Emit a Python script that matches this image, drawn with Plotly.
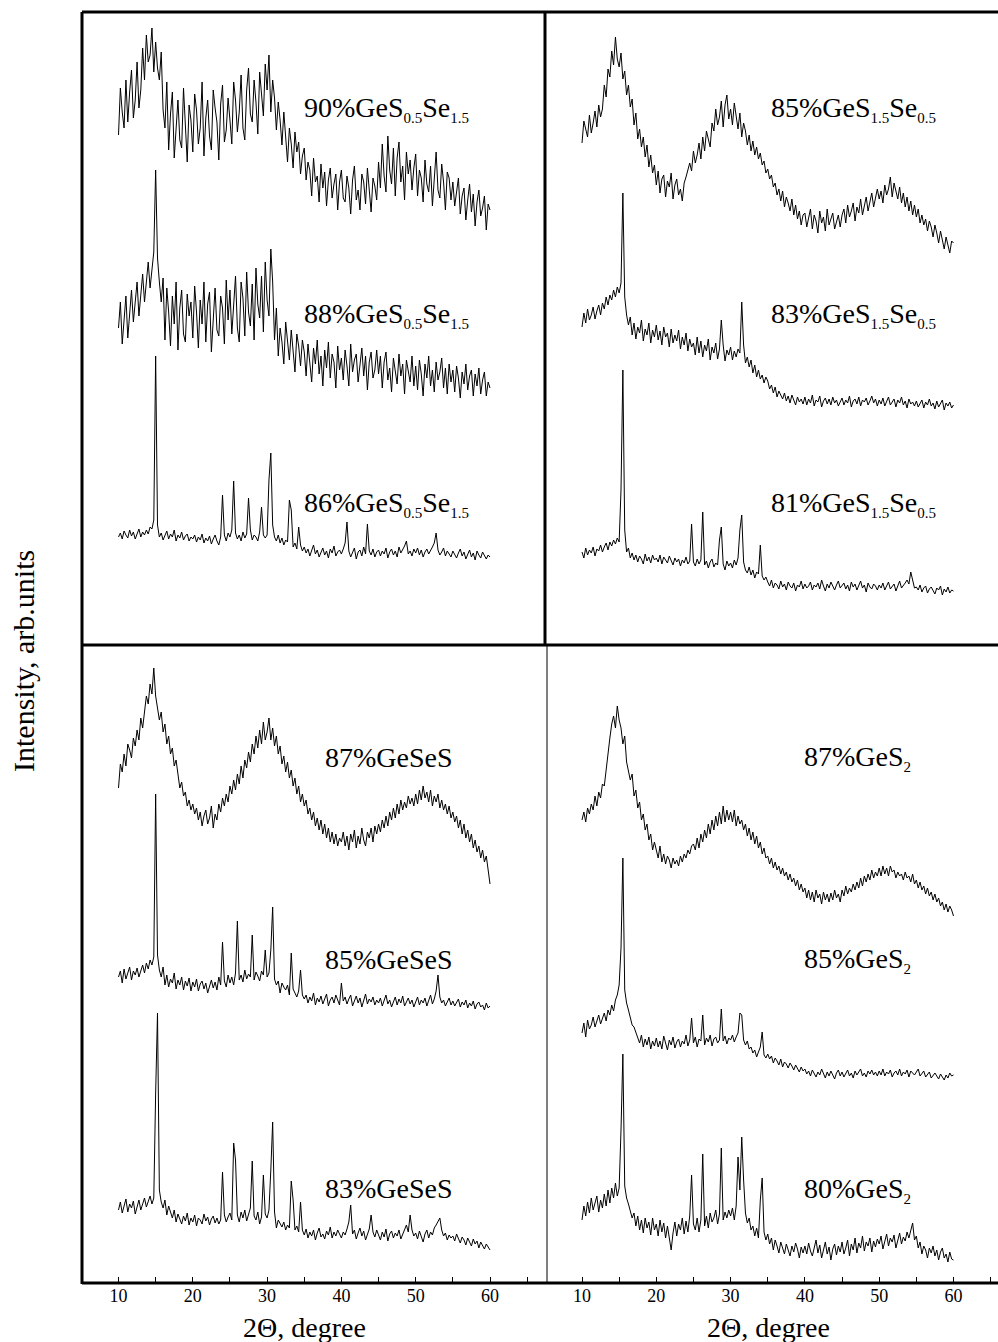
import numpy as np
import plotly.graph_objects as go

W, H = 998, 1342

# 2-theta scan grid, 10..60 deg, 0.25 deg step
two_theta = np.round(10 + 0.25 * np.arange(201), 2)

# ---- intensities (arb. units) ----
# top-left panel: GeS0.5Se1.5
i_90_s05 = [
    105, 152, 128, 112, 160, 118, 148, 170, 122, 140, 178, 132, 150, 192, 160, 205, 178, 185, 212, 168,
    198, 172, 160, 188, 130, 112, 158, 90, 126, 148, 82, 118, 140, 100, 92, 152, 115, 78, 135, 120,
    88, 146, 130, 96, 112, 158, 84, 122, 140, 104, 90, 150, 132, 118, 80, 136, 155, 98, 110, 142,
    120, 96, 158, 140, 108, 128, 165, 112, 100, 150, 172, 126, 118, 160, 138, 106, 168, 145, 124, 176,
    150, 185, 128, 160, 142, 110, 138, 120, 95, 128, 104, 78, 112, 96, 72, 108, 88, 98, 66, 84,
    92, 60, 78, 70, 44, 82, 58, 64, 38, 76, 52, 68, 34, 60, 72, 42, 56, 66, 30, 58,
    70, 42, 38, 64, 52, 26, 60, 74, 40, 50, 30, 66, 58, 36, 72, 48, 28, 62, 54, 40,
    78, 52, 96, 64, 48, 104, 70, 56, 92, 44, 82, 98, 58, 74, 40, 88, 66, 80, 50, 72,
    86, 44, 70, 62, 38, 80, 56, 48, 74, 34, 66, 88, 50, 42, 76, 58, 30, 68, 62, 40,
    58, 34, 48, 62, 26, 44, 52, 20, 40, 56, 28, 46, 14, 38, 50, 24, 32, 44, 10, 36,
    30]
i_88_s05 = [
    72, 98, 56, 84, 104, 62, 90, 110, 78, 96, 118, 84, 106, 126, 98, 122, 138, 112, 130, 148,
    230, 142, 118, 98, 122, 60, 112, 88, 54, 104, 76, 118, 50, 92, 110, 66, 58, 106, 84, 98,
    62, 114, 88, 52, 100, 76, 118, 58, 96, 108, 48, 86, 112, 70, 64, 104, 92, 56, 120, 80,
    110, 66, 94, 124, 72, 58, 118, 102, 64, 128, 88, 74, 116, 60, 132, 96, 82, 124, 68, 138,
    100, 84, 151, 118, 60, 92, 44, 72, 58, 36, 78, 62, 40, 70, 50, 28, 66, 54, 34, 60,
    48, 24, 56, 40, 18, 52, 36, 60, 26, 44, 14, 50, 32, 58, 22, 46, 38, 12, 54, 30,
    42, 20, 50, 34, 14, 56, 28, 40, 46, 18, 36, 52, 24, 44, 10, 38, 48, 22, 30, 50,
    26, 44, 12, 38, 48, 20, 32, 8, 42, 30, 16, 46, 24, 36, 6, 40, 28, 18, 44, 14,
    34, 10, 40, 26, 4, 36, 22, 44, 14, 30, 8, 38, 20, 28, 42, 12, 32, 6, 36, 18,
    30, 8, 34, 22, 2, 28, 16, 36, 10, 24, 30, 4, 26, 14, 32, 6, 20, 28, 4, 18,
    12]
i_86_s05 = [
    28, 32, 26, 34, 30, 27, 35, 29, 33, 26, 31, 36, 28, 33, 30, 35, 31, 38, 36, 45,
    209, 40, 28, 32, 25, 30, 34, 26, 31, 28, 35, 24, 30, 27, 33, 25, 29, 31, 24, 28,
    26, 30, 23, 28, 25, 31, 22, 27, 24, 29, 21, 26, 30, 24, 20, 28, 70, 30, 24, 32,
    28, 35, 84, 32, 26, 30, 24, 33, 27, 31, 67, 35, 25, 30, 28, 24, 33, 58, 30, 27,
    30, 85, 112, 40, 28, 24, 30, 22, 27, 20, 25, 23, 65, 55, 18, 22, 16, 38, 20, 14,
    18, 12, 16, 9, 14, 20, 11, 15, 8, 13, 17, 10, 14, 7, 16, 12, 19, 9, 13, 15,
    11, 16, 22, 43, 14, 8, 12, 17, 6, 13, 15, 9, 18, 11, 41, 14, 10, 16, 8, 13,
    15, 9, 14, 11, 17, 7, 13, 16, 10, 14, 8, 18, 12, 15, 19, 24, 11, 14, 9, 16,
    12, 17, 10, 15, 8, 13, 16, 11, 14, 18, 22, 32, 15, 10, 13, 17, 9, 14, 11, 8,
    14, 10, 7, 12, 16, 9, 13, 6, 11, 15, 8, 12, 5, 14, 10, 7, 13, 9, 6, 10,
    8]

# top-right panel: GeS1.5Se0.5
i_85_s15 = [
    112, 134, 126, 118, 140, 122, 132, 144, 128, 150, 138, 146, 170, 158, 186, 178, 204, 190, 218, 196,
    188, 202, 176, 184, 160, 170, 148, 156, 130, 142, 116, 126, 108, 118, 98, 110, 88, 100, 82, 90,
    70, 84, 62, 76, 80, 58, 74, 68, 82, 56, 70, 76, 60, 66, 54, 72, 78, 86, 92, 84,
    104, 92, 100, 112, 96, 118, 104, 124, 116, 108, 132, 124, 146, 130, 138, 154, 128, 150, 160, 136,
    146, 130, 152, 138, 126, 142, 118, 132, 124, 110, 120, 104, 114, 100, 108, 96, 102, 90, 94, 82,
    86, 76, 80, 68, 72, 60, 66, 54, 64, 48, 58, 52, 44, 56, 40, 50, 36, 44, 30, 40,
    42, 28, 38, 46, 26, 40, 34, 22, 44, 32, 38, 24, 46, 30, 36, 42, 26, 34, 40, 28,
    40, 46, 32, 50, 38, 44, 52, 34, 48, 42, 56, 40, 50, 58, 44, 54, 62, 48, 58, 66,
    56, 64, 52, 70, 60, 66, 78, 58, 72, 64, 56, 68, 52, 62, 48, 58, 44, 54, 40, 50,
    38, 46, 32, 40, 30, 36, 24, 34, 28, 18, 30, 22, 12, 24, 16, 6, 18, 10, 2, 14,
    12]
i_83_s15 = [
    88, 102, 92, 106, 95, 100, 108, 96, 104, 110, 100, 112, 106, 118, 110, 120, 115, 125, 118, 128,
    122, 132, 222, 118, 100, 90, 98, 80, 92, 76, 88, 82, 95, 74, 86, 80, 92, 72, 85, 78,
    90, 75, 84, 70, 88, 78, 82, 68, 86, 72, 80, 74, 85, 66, 78, 70, 82, 64, 76, 68,
    72, 60, 78, 62, 74, 58, 70, 64, 76, 55, 68, 62, 72, 56, 66, 95, 70, 54, 65, 60,
    68, 55, 64, 58, 66, 62, 113, 70, 52, 58, 48, 55, 42, 50, 38, 45, 36, 40, 32, 38,
    34, 26, 30, 22, 28, 18, 24, 20, 16, 22, 14, 19, 12, 20, 15, 10, 18, 13, 16, 11,
    18, 10, 16, 12, 20, 9, 15, 13, 19, 8, 14, 17, 11, 16, 10, 18, 12, 15, 9, 14,
    17, 10, 15, 12, 19, 8, 14, 16, 11, 18, 9, 15, 13, 17, 10, 14, 19, 12, 16, 9,
    15, 11, 17, 9, 14, 18, 10, 13, 16, 8, 15, 12, 18, 10, 14, 7, 16, 11, 13, 9,
    14, 8, 12, 15, 7, 13, 10, 16, 9, 12, 6, 14, 8, 11, 15, 5, 12, 9, 13, 7,
    10]
i_81_s15 = [
    48, 42, 52, 45, 50, 47, 53, 44, 51, 49, 55, 48, 53, 57, 50, 58, 54, 60, 56, 62,
    58, 110, 230, 70, 48, 52, 42, 47, 40, 45, 38, 44, 41, 36, 46, 39, 43, 37, 45, 40,
    42, 38, 45, 36, 43, 40, 37, 44, 39, 35, 42, 38, 41, 34, 40, 37, 43, 36, 39, 76,
    38, 34, 41, 36, 40, 88, 35, 39, 32, 38, 41, 33, 37, 35, 60, 73, 36, 30, 39, 34,
    37, 32, 40, 35, 42, 70, 85, 38, 30, 27, 33, 25, 30, 22, 28, 26, 55, 24, 20, 23,
    18, 14, 20, 12, 17, 15, 11, 19, 13, 16, 10, 18, 14, 12, 17, 9, 15, 13, 19, 11,
    16, 12, 14, 18, 10, 15, 13, 17, 11, 20, 14, 9, 16, 12, 18, 13, 10, 15, 19, 12,
    14, 17, 11, 15, 9, 18, 13, 16, 10, 14, 19, 12, 15, 8, 17, 13, 11, 16, 14, 10,
    15, 12, 17, 10, 14, 18, 11, 13, 16, 9, 15, 19, 12, 14, 17, 20, 16, 28, 18, 12,
    13, 10, 15, 8, 12, 14, 7, 11, 13, 9, 6, 12, 10, 14, 5, 11, 8, 13, 7, 10,
    9]

# bottom-left panel: GeSeS
i_87_ses = [
    102, 126, 118, 136, 124, 146, 140, 132, 152, 144, 160, 150, 172, 162, 178, 194, 186, 206, 196, 222,
    194, 182, 170, 178, 158, 166, 146, 154, 136, 142, 124, 130, 114, 102, 108, 94, 98, 84, 90, 80,
    86, 76, 82, 70, 78, 64, 74, 80, 66, 72, 84, 62, 76, 70, 86, 78, 92, 84, 96, 88,
    104, 96, 110, 100, 116, 106, 124, 112, 130, 122, 138, 128, 146, 136, 154, 142, 160, 146, 168, 150,
    158, 172, 150, 162, 144, 154, 136, 144, 126, 134, 118, 128, 112, 120, 104, 112, 96, 104, 88, 96,
    84, 90, 76, 82, 70, 78, 64, 72, 60, 70, 56, 66, 52, 62, 48, 58, 46, 56, 44, 52,
    48, 58, 44, 54, 40, 56, 48, 60, 42, 54, 46, 62, 50, 44, 58, 52, 62, 48, 64, 56,
    66, 58, 70, 62, 74, 64, 78, 70, 82, 72, 86, 76, 90, 80, 88, 82, 94, 86, 92, 84,
    96, 86, 100, 90, 104, 92, 98, 88, 100, 84, 94, 88, 96, 82, 90, 80, 86, 76, 84, 72,
    78, 68, 74, 62, 70, 56, 66, 52, 60, 48, 56, 42, 50, 38, 44, 32, 40, 28, 34, 20,
    6]
i_85_ses = [
    38, 44, 32, 46, 36, 42, 48, 35, 44, 40, 47, 38, 45, 50, 42, 52, 46, 55, 50, 58,
    221, 60, 45, 38, 48, 30, 40, 28, 36, 32, 42, 26, 35, 30, 38, 25, 34, 29, 37, 24,
    33, 28, 36, 24, 31, 34, 26, 32, 22, 30, 35, 27, 33, 25, 38, 30, 73, 34, 28, 40,
    32, 38, 30, 42, 94, 35, 40, 33, 45, 36, 41, 38, 80, 35, 43, 39, 34, 44, 40, 65,
    38, 42, 65, 108, 36, 30, 34, 22, 32, 28, 25, 30, 20, 62, 26, 22, 18, 24, 45, 20,
    16, 20, 12, 18, 14, 22, 10, 17, 13, 19, 11, 16, 21, 9, 15, 18, 12, 20, 14, 10,
    32, 14, 18, 11, 16, 20, 9, 15, 19, 12, 17, 8, 14, 21, 11, 16, 13, 18, 10, 15,
    12, 17, 9, 14, 20, 11, 15, 8, 13, 18, 10, 16, 12, 19, 9, 14, 17, 11, 15, 8,
    13, 18, 10, 15, 12, 17, 9, 14, 20, 11, 16, 24, 40, 18, 12, 15, 9, 13, 17, 10,
    14, 9, 12, 16, 8, 13, 10, 15, 7, 12, 9, 14, 6, 11, 13, 8, 10, 5, 12, 7,
    9]
i_83_ses = [
    50, 58, 47, 55, 61, 48, 56, 52, 59, 46, 54, 60, 50, 57, 62, 53, 58, 64, 56, 62,
    167, 247, 70, 58, 52, 60, 45, 54, 48, 42, 50, 38, 46, 41, 36, 44, 39, 47, 35, 42,
    38, 45, 34, 42, 40, 36, 46, 39, 43, 35, 41, 44, 37, 42, 36, 40, 88, 45, 38, 43,
    47, 40, 117, 100, 45, 38, 48, 42, 50, 39, 46, 52, 99, 44, 40, 48, 36, 43, 85, 46,
    42, 50, 90, 138, 48, 32, 40, 36, 33, 38, 30, 35, 32, 79, 60, 30, 34, 28, 58, 30,
    25, 31, 22, 28, 24, 30, 20, 27, 32, 23, 26, 21, 29, 25, 33, 22, 28, 24, 30, 26,
    22, 28, 25, 31, 38, 55, 26, 30, 21, 27, 32, 24, 29, 20, 26, 31, 45, 28, 23, 30,
    25, 20, 28, 23, 31, 19, 26, 29, 22, 27, 24, 30, 21, 26, 32, 35, 28, 45, 30, 24,
    27, 21, 29, 24, 18, 26, 30, 22, 28, 25, 32, 35, 38, 42, 30, 24, 27, 20, 25, 22,
    24, 19, 26, 21, 17, 23, 20, 15, 22, 18, 14, 21, 16, 19, 12, 18, 15, 11, 16, 13,
    10]

# bottom-right panel: GeS2
i_87_s2 = [
    100, 108, 98, 112, 106, 116, 110, 124, 114, 128, 122, 136, 134, 152, 170, 182, 196, 204, 192, 214,
    200, 192, 176, 184, 158, 150, 140, 146, 124, 130, 112, 118, 100, 106, 90, 96, 80, 86, 70, 78,
    70, 62, 74, 58, 66, 56, 64, 60, 52, 62, 56, 60, 54, 64, 58, 66, 62, 70, 66, 74,
    76, 70, 82, 72, 86, 78, 90, 82, 96, 86, 100, 90, 104, 94, 108, 96, 114, 98, 110, 100,
    108, 98, 110, 94, 104, 96, 100, 90, 96, 84, 92, 80, 88, 76, 84, 72, 78, 66, 72, 62,
    64, 56, 62, 52, 58, 50, 54, 46, 52, 44, 48, 40, 46, 38, 42, 34, 40, 30, 36, 28,
    32, 22, 30, 20, 28, 18, 30, 22, 26, 16, 28, 20, 26, 18, 27, 20, 30, 22, 26, 18,
    30, 24, 34, 26, 32, 28, 36, 30, 38, 32, 42, 34, 44, 38, 46, 40, 50, 42, 48, 44,
    52, 44, 54, 46, 52, 44, 54, 48, 50, 42, 48, 44, 46, 40, 48, 42, 44, 38, 46, 36,
    40, 32, 38, 30, 34, 26, 32, 24, 28, 20, 26, 18, 22, 14, 18, 10, 16, 8, 14, 10,
    4]
i_85_s2 = [
    52, 62, 48, 65, 56, 60, 68, 58, 64, 70, 61, 67, 72, 64, 75, 70, 80, 74, 85, 90,
    100, 137, 227, 95, 82, 75, 68, 60, 58, 52, 48, 42, 50, 38, 46, 40, 48, 36, 44, 39,
    47, 38, 44, 36, 49, 41, 35, 45, 40, 48, 37, 43, 46, 38, 44, 41, 50, 39, 45, 67,
    42, 48, 38, 46, 44, 70, 40, 47, 43, 50, 39, 46, 48, 42, 45, 76, 44, 49, 41, 47,
    45, 50, 43, 48, 52, 72, 70, 45, 40, 44, 36, 38, 32, 35, 28, 33, 38, 53, 30, 27,
    31, 26, 29, 22, 27, 24, 20, 26, 18, 23, 21, 17, 22, 19, 15, 20, 16, 13, 18, 14,
    16, 11, 14, 9, 15, 12, 8, 13, 10, 16, 11, 7, 13, 9, 14, 10, 6, 12, 15, 9,
    13, 8, 11, 15, 9, 12, 7, 14, 10, 13, 16, 9, 12, 8, 14, 11, 15, 10, 13, 9,
    14, 10, 16, 9, 13, 11, 15, 8, 12, 14, 10, 16, 9, 13, 11, 15, 8, 14, 12, 10,
    13, 16, 9, 12, 14, 8, 11, 13, 7, 10, 12, 9, 6, 11, 8, 5, 10, 7, 12, 9,
    10]
i_80_s2 = [
    48, 62, 52, 66, 55, 70, 58, 64, 72, 56, 68, 60, 74, 62, 78, 65, 80, 70, 85, 72,
    80, 138, 214, 82, 70, 64, 58, 50, 55, 42, 52, 38, 48, 35, 50, 40, 46, 33, 50, 38,
    44, 32, 48, 36, 45, 30, 42, 28, 18, 35, 46, 32, 44, 38, 50, 34, 47, 36, 52, 93,
    44, 38, 50, 36, 48, 114, 42, 52, 40, 55, 46, 50, 58, 44, 54, 120, 48, 56, 50, 58,
    52, 60, 48, 62, 111, 78, 131, 88, 55, 45, 50, 38, 42, 32, 40, 30, 68, 90, 36, 28,
    34, 24, 30, 18, 28, 22, 15, 26, 20, 14, 24, 18, 12, 22, 16, 25, 19, 10, 21, 15,
    22, 14, 25, 17, 12, 20, 28, 15, 23, 10, 18, 26, 14, 21, 8, 19, 24, 13, 22, 16,
    26, 14, 20, 28, 12, 24, 18, 30, 15, 25, 20, 32, 17, 26, 22, 30, 16, 27, 21, 29,
    24, 32, 19, 28, 34, 22, 30, 26, 33, 20, 29, 35, 24, 31, 27, 36, 30, 38, 45, 28,
    32, 20, 26, 14, 22, 18, 10, 20, 15, 22, 12, 18, 8, 16, 20, 10, 14, 6, 16, 9,
    8]


def chem(s):
    # small subscripts like in the original figure
    return s.replace("<sub>", "<sub><span style='font-size:15px'>").replace("</sub>", "</span></sub>")


# sample labels
labels_tl = ["90%GeS<sub>0.5</sub>Se<sub>1.5</sub>", "88%GeS<sub>0.5</sub>Se<sub>1.5</sub>",
             "86%GeS<sub>0.5</sub>Se<sub>1.5</sub>"]
labels_tr = ["85%GeS<sub>1.5</sub>Se<sub>0.5</sub>", "83%GeS<sub>1.5</sub>Se<sub>0.5</sub>",
             "81%GeS<sub>1.5</sub>Se<sub>0.5</sub>"]
labels_bl = ["87%GeSeS", "85%GeSeS", "83%GeSeS"]
labels_br = ["87%GeS<sub>2</sub>", "85%GeS<sub>2</sub>", "80%GeS<sub>2</sub>"]

major_ticks = [10, 20, 30, 40, 50, 60]
minor_ticks = [5, 15, 25, 35, 45, 55, 65]

# panel -> (xaxis, yaxis, traces, vertical offsets, labels, label x px, label y px)
panels = [
    ("x", "y", [i_90_s05, i_88_s05, i_86_s05], [405, 245, 80], labels_tl, 302, [109, 315, 504]),
    ("x2", "y2", [i_85_s15, i_83_s15, i_81_s15], [390, 230, 45], labels_tr, 769, [109, 315, 504]),
    ("x3", "y3", [i_87_ses, i_85_ses, i_83_ses], [393, 268, 23], labels_bl, 323, [757, 959, 1188]),
    ("x4", "y4", [i_87_s2, i_85_s2, i_80_s2], [363, 198, 15], labels_br, 802, [758, 960, 1190]),
]

FONT = "Liberation Serif"
fig = go.Figure()
annotations = []
for xa, ya, series, offsets, labels, lx, lys in panels:
    for vals, off in zip(series, offsets):
        fig.add_trace(go.Scatter(
            x=two_theta, y=np.array(vals) + off, mode="lines",
            line=dict(color="black", width=1), xaxis=xa, yaxis=ya,
            showlegend=False, hoverinfo="skip"))
    for text, ly in zip(labels, lys):
        annotations.append(dict(
            text=chem(text), x=lx / W, y=1 - ly / H, xref="paper", yref="paper",
            xanchor="left", yanchor="middle", showarrow=False,
            font=dict(family=FONT, size=28, color="black")))

# axis titles
for cx in (304, 768):
    annotations.append(dict(text="2\u0398, degree", x=cx / W, y=1 - 1327 / H,
                            xref="paper", yref="paper", showarrow=False,
                            xanchor="center", yanchor="middle",
                            font=dict(family=FONT, size=28, color="black")))
annotations.append(dict(text="Intensity, arb.units", x=23 / W, y=1 - 661 / H,
                        xref="paper", yref="paper", showarrow=False, textangle=-90,
                        xanchor="center", yanchor="middle",
                        font=dict(family=FONT, size=30, color="black")))

top_dom = [1 - 645 / H, 1 - 12 / H]
bot_dom = [1 - 1283 / H, 1 - 645 / H]
left_dom = [82 / W, 547 / W]
right_dom = [547 / W, 1.0]
left_rng = [10 - 36.5 / 7.43, 10 + 428.5 / 7.43]
right_rng = [10 - 35 / 7.43, 10 + 416 / 7.43]

hidden = dict(visible=False, fixedrange=True)
xticks = dict(visible=True, showgrid=False, zeroline=False, showline=False,
              ticks="inside", ticklen=6, tickwidth=1, tickcolor="black",
              tickmode="array", tickvals=major_ticks,
              tickfont=dict(family=FONT, size=18, color="black"),
              minor=dict(tickmode="array", tickvals=minor_ticks, ticks="inside",
                         ticklen=6, tickwidth=1, tickcolor="black", showgrid=False))


def line(x0, y0, x1, y1, w):
    return dict(type="line", xref="paper", yref="paper",
                x0=x0 / W, y0=1 - y0 / H, x1=x1 / W, y1=1 - y1 / H,
                line=dict(color="black", width=w))


shapes = [
    line(82, 12, 1005, 12, 3),
    line(82, 645, 1005, 645, 3),
    line(545, 12, 545, 645, 3),
    line(82, 12, 82, 1284, 3),
    line(82, 1283, 1005, 1283, 3),
    line(547, 645, 547, 1283, 1),
]

fig.update_layout(
    width=W, height=H,
    margin=dict(l=0, r=0, t=0, b=0),
    paper_bgcolor="white", plot_bgcolor="rgba(0,0,0,0)",
    xaxis=dict(domain=left_dom, range=left_rng, anchor="y", **hidden),
    yaxis=dict(domain=top_dom, range=[0, 633], anchor="x", **hidden),
    xaxis2=dict(domain=right_dom, range=right_rng, anchor="y2", **hidden),
    yaxis2=dict(domain=top_dom, range=[0, 633], anchor="x2", **hidden),
    xaxis3=dict(domain=left_dom, range=left_rng, anchor="y3", **xticks),
    yaxis3=dict(domain=bot_dom, range=[0, 638], anchor="x3", **hidden),
    xaxis4=dict(domain=right_dom, range=right_rng, anchor="y4", **xticks),
    yaxis4=dict(domain=bot_dom, range=[0, 638], anchor="x4", **hidden),
    shapes=shapes,
    annotations=annotations,
)

# drop the default page margin so the figure sits at the window's top-left corner
fig.write_html("out.html", config={"displayModeBar": False},
               post_script="document.body.style.margin='0';")
